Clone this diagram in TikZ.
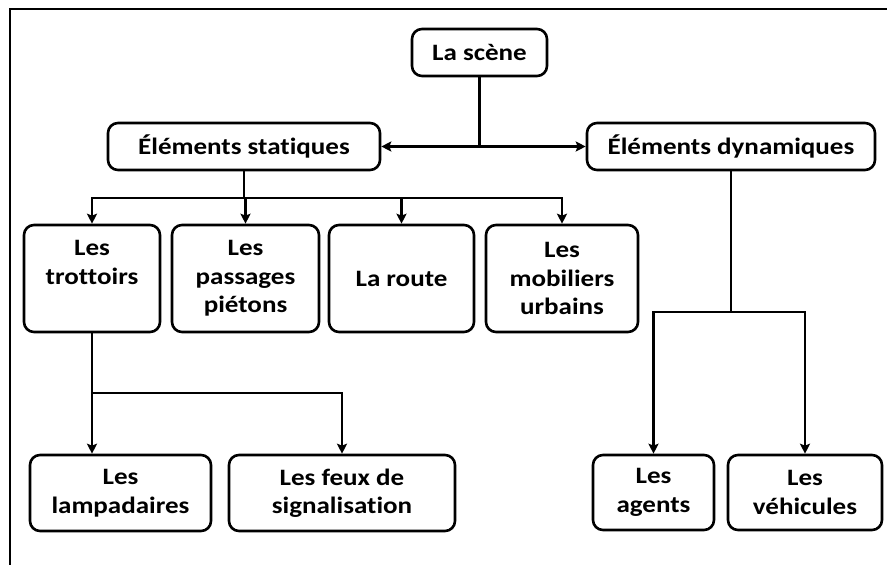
\documentclass[tikz,border=0pt]{standalone}
\usepackage{fontspec}
\setmainfont{Carlito}[FakeStretch=1.15,Ligatures=NoCommon]
\usetikzlibrary{arrows.meta}

\begin{document}
\begin{tikzpicture}[x=1pt,y=-1pt,>={Stealth[length=10pt,width=10pt,inset=2pt]},
  box/.style={draw,line width=2.6pt,rounded corners=10pt,align=center,
    font=\fontsize{23.5}{28.5}\selectfont\bfseries,inner sep=0pt},
  link/.style={line width=2.5pt}]
  \useasboundingbox (0,0) rectangle (887,565);
  \draw[line width=2.6pt] (887,9) -- (10,9) -- (10,565);

  \node[box,minimum width=135pt,minimum height=47pt] (scene) at (479.5,52.5) {La scène};
  \node[box,minimum width=272pt,minimum height=47pt] (stat) at (244,146.5) {Éléments statiques};
  \node[box,minimum width=288pt,minimum height=47pt] (dyn) at (731,146.5) {Éléments dynamiques};

  \node[box,minimum width=136pt,minimum height=107pt] (trot) at (92,278.5) {Les\\trottoirs\\\phantom{piétons}};
  \node[box,minimum width=147pt,minimum height=107pt] (pass) at (245.5,278.5) {Les\\passages\\piétons};
  \node[box,minimum width=145pt,minimum height=107pt] (route) at (401.5,278.5) {La route};
  \node[box,minimum width=152pt,minimum height=107pt] (mob) at (562,278.5) {Les\\mobiliers\\urbains};

  \node[box,minimum width=181pt,minimum height=76pt] (lamp) at (120.5,493) {Les\\lampadaires};
  \node[box,minimum width=226pt,minimum height=76pt] (feux) at (342,493) {Les feux de\\signalisation};
  \node[box,minimum width=121pt,minimum height=75pt] (agents) at (653.5,492.5) {Les\\agents};
  \node[box,minimum width=154pt,minimum height=75pt] (veh) at (805,492.5) {Les\\véhicules};

  \coordinate (sbar) at (stat.south |- 0,198);
  \coordinate (tbar) at (trot.south |- 0,393);
  \coordinate (dbar) at (dyn.south |- 0,312);

  \draw[link] (scene) -- (scene |- stat);
  \draw[link,<->] (stat) -- (dyn);

  \draw[link] (stat) -- (sbar);
  \foreach \n in {trot,pass,route,mob}
    \draw[link,->] (sbar) -| (\n);

  \draw[link,->] (trot) -- (trot.south |- lamp.north);
  \draw[link,->] (tbar) -| (feux);

  \draw[link] (dyn) -- (dbar);
  \draw[link,->] (dbar) -| (agents);
  \draw[link,->] (dbar) -| (veh);
\end{tikzpicture}
\end{document}
